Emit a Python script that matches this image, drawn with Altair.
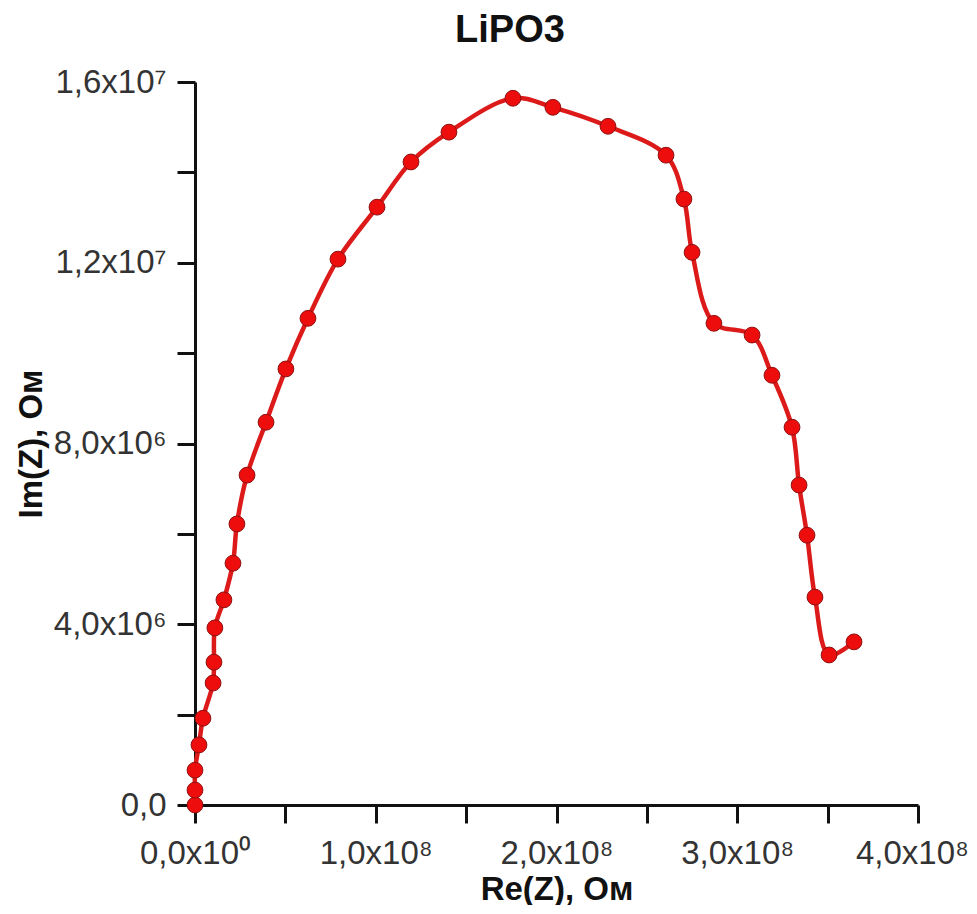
import altair as alt
import pandas as pd

re_z = [0.0e6, 0.0e6, 0.0e6, 2.2e6, 4.4e6, 10.0e6, 10.5e6, 11.0e6, 16.0e6, 21.0e6,
        23.2e6, 28.8e6, 39.3e6, 50.3e6, 62.5e6, 79.1e6, 100.7e6, 119.5e6, 140.5e6, 175.9e6,
        198.0e6, 228.5e6, 260.6e6, 270.5e6, 275.0e6, 287.1e6, 308.2e6, 319.2e6, 330.3e6, 334.2e6,
        338.6e6, 343.0e6, 350.8e6, 364.6e6]
im_z = [0.0e6, 0.33e6, 0.77e6, 1.33e6, 1.92e6, 2.70e6, 3.16e6, 3.92e6, 4.54e6, 5.35e6,
        6.22e6, 7.30e6, 8.47e6, 9.65e6, 10.77e6, 12.08e6, 13.23e6, 14.23e6, 14.89e6, 15.64e6,
        15.44e6, 15.02e6, 14.38e6, 13.41e6, 12.23e6, 10.66e6, 10.40e6, 9.51e6, 8.36e6, 7.08e6,
        5.97e6, 4.60e6, 3.32e6, 3.61e6]

# Axis ticks and labels
x_ticks = [0, 0.5e8, 1.0e8, 1.5e8, 2.0e8, 2.5e8, 3.0e8, 3.5e8, 4.0e8]
x_label_values = [0, 1.0e8, 2.0e8, 3.0e8, 4.0e8]
x_label_texts = ["0,0x10⁰", "1,0x10⁸", "2,0x10⁸", "3,0x10⁸", "4,0x10⁸"]
y_ticks = [0, 2e6, 4e6, 6e6, 8e6, 10e6, 12e6, 14e6, 16e6]
y_label_values = [0, 4e6, 8e6, 12e6, 16e6]
y_label_texts = ["0,0", "4,0x10⁶", "8,0x10⁶", "1,2x10⁷", "1,6x10⁷"]

title_text = ["LiPO3"]
x_title = "Re(Z), Ом"
y_title = "Im(Z), Ом"


def label_expr(values, texts):
    expr = "''"
    for v, t in reversed(list(zip(values, texts))):
        expr = f"abs(datum.value - {v}) < 1 ? '{t}' : ({expr})"
    return expr


df = pd.DataFrame({"re": re_z, "im": im_z, "idx": list(range(len(re_z)))})
title_df = pd.DataFrame({"t": title_text})

FONT = "Liberation Sans"

x_enc = alt.X(
    "re:Q",
    scale=alt.Scale(domain=[0, 4e8], nice=False, zero=False),
    axis=alt.Axis(
        values=x_ticks,
        labelExpr=label_expr(x_label_values, x_label_texts),
        title=x_title,
        titleFont=FONT, titleFontSize=33, titleFontWeight="bold", titleColor="#111",
        titleY=94, titleBaseline="alphabetic",
        labelFont=FONT, labelFontSize=33, labelColor="#333",
        labelPadding=14, labelFlush=False, labelOverlap=False,
        labelOffset={"condition": {"test": f"datum.value > {x_label_values[-1] - 1}", "value": -6}, "value": 0},
        tickSize=18, tickWidth=3, tickColor="#111",
        domainWidth=3, domainColor="#111", grid=False,
    ),
)
y_enc = alt.Y(
    "im:Q",
    scale=alt.Scale(domain=[0, 1.6e7], nice=False, zero=False),
    axis=alt.Axis(
        values=y_ticks,
        labelExpr=label_expr(y_label_values, y_label_texts),
        title=y_title,
        titleFont=FONT, titleFontSize=33, titleFontWeight="bold", titleColor="#111",
        titleX=-154, titleBaseline="alphabetic", titleAngle=270,
        labelFont=FONT, labelFontSize=33, labelColor="#333",
        labelPadding=11, labelFlush=False, labelOverlap=False, labelBaseline="middle",
        tickSize=18, tickWidth=3, tickColor="#111",
        domainWidth=3, domainColor="#111", grid=False,
    ),
)

line = alt.Chart(df).mark_line(
    color="#dd1a1a", strokeWidth=4.5, interpolate="catmull-rom"
).encode(x=x_enc, y=y_enc, order="idx:Q")

points = alt.Chart(df).mark_point(
    filled=True, shape="circle", size=250, fill="#ee0d0d", stroke="#8e1010",
    strokeWidth=1, opacity=1
).encode(x="re:Q", y="im:Q")

title = alt.Chart(title_df).mark_text(
    font=FONT, fontSize=38, fontWeight="bold", color="#111",
    align="center", baseline="alphabetic"
).encode(text="t:N", x=alt.value(315), y=alt.value(-40))

chart = alt.layer(line, points, title).properties(
    width=723,
    height=723,
    autosize=alt.AutoSizeParams(type="none"),
    padding={"left": 187, "top": 74, "right": 50, "bottom": 100},
    background="white",
).configure_view(stroke=None)

chart.save("out.html", embed_options={"renderer": "svg", "actions": False})
